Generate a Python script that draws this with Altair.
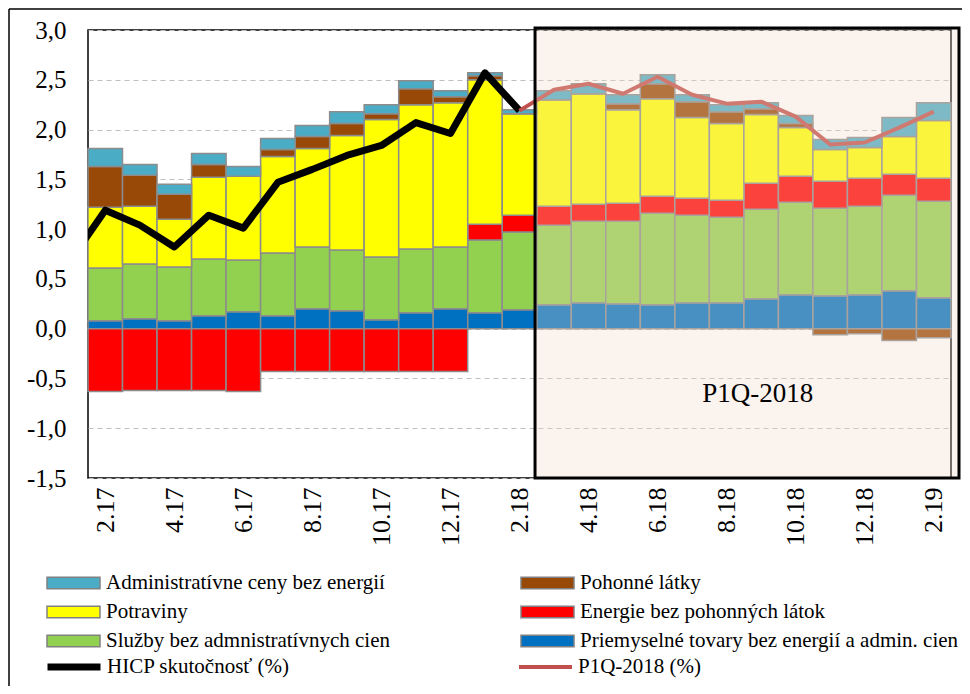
import json
import altair as alt
import pandas as pd

# ---------------- data ----------------
months = ["2.17", "3.17", "4.17", "5.17", "6.17", "7.17", "8.17", "9.17", "10.17",
          "11.17", "12.17", "1.18", "2.18", "3.18", "4.18", "5.18", "6.18", "7.18",
          "8.18", "9.18", "10.18", "11.18", "12.18", "1.19", "2.19"]

admin = [0.18, 0.11, 0.10, 0.11, 0.10, 0.11, 0.11, 0.12, 0.09, 0.08, 0.06, 0.03, 0.04,
         0.09, 0.10, 0.09, 0.09, 0.07, 0.07, 0.06, 0.08, 0.10, 0.10, 0.19, 0.18]
fuels = [0.41, 0.31, 0.25, 0.13, 0.00, 0.07, 0.12, 0.12, 0.06, 0.16, 0.06, 0.04, 0.00,
         0.00, 0.00, 0.06, 0.15, 0.16, 0.12, 0.06, 0.04, -0.06, -0.05, -0.12, -0.09]
food = [0.61, 0.58, 0.48, 0.82, 0.84, 0.97, 0.99, 1.15, 1.38, 1.45, 1.45, 1.45, 1.02,
        1.07, 1.11, 0.94, 0.98, 0.81, 0.77, 0.69, 0.49, 0.32, 0.31, 0.38, 0.58]
energy = [-0.63, -0.62, -0.62, -0.62, -0.63, -0.43, -0.43, -0.43, -0.43, -0.43, -0.43,
          0.16, 0.17, 0.19, 0.17, 0.18, 0.17, 0.17, 0.17, 0.26, 0.26, 0.27, 0.28, 0.21, 0.23]
services = [0.53, 0.55, 0.54, 0.57, 0.52, 0.63, 0.62, 0.61, 0.63, 0.64, 0.62, 0.73, 0.78,
            0.80, 0.82, 0.83, 0.92, 0.88, 0.86, 0.90, 0.93, 0.88, 0.89, 0.96, 0.97]
goods = [0.08, 0.10, 0.08, 0.13, 0.17, 0.13, 0.20, 0.18, 0.09, 0.16, 0.20, 0.16, 0.19,
         0.24, 0.26, 0.25, 0.24, 0.26, 0.26, 0.30, 0.34, 0.33, 0.34, 0.38, 0.31]

# HICP actual (first point is 1.17, just left of the plot, clipped)
hicp_months = ["1.17"] + months[:13]
hicp_values = [0.69, 1.19, 1.04, 0.82, 1.14, 1.01, 1.47, 1.60, 1.74, 1.84, 2.07, 1.96, 2.57, 2.19]

# P1Q-2018 forecast
p1q_months = months[12:]
p1q_values = [2.19, 2.40, 2.46, 2.36, 2.53, 2.35, 2.26, 2.28, 2.13, 1.85, 1.87, 2.02, 2.18]

n_admin = "Administratívne ceny bez energií"
n_fuels = "Pohonné látky"
n_food = "Potraviny"
n_energy = "Energie bez pohonných látok"
n_serv = "Služby bez admnistratívnych cien"
n_goods = "Priemyselné tovary bez energií a admin. cien"

# legend domain (column-major so it reads row by row like the original)
legend_domain = [n_admin, n_food, n_serv, n_fuels, n_energy, n_goods]
legend_colors = ["#4BACC6", "#FFFF00", "#92D050", "#984807", "#FF0000", "#0070C0"]

# stacking order from the bottom
stack_series = [n_goods, n_serv, n_energy, n_food, n_fuels, n_admin]
stack_values = [goods, services, energy, food, fuels, admin]

hicp_name = "HICP skutočnosť (%)"
p1q_name = "P1Q-2018 (%)"
forecast_label = "P1Q-2018"
forecast_start = 12.45   # between 2.18 and 3.18

# ---------------- tables ----------------
rows = []
for o, (name, vals) in enumerate(zip(stack_series, stack_values)):
    for i, m in enumerate(months):
        rows.append({"idx": i, "month": m, "series": name, "value": vals[i], "ord": o})
bars_df = pd.DataFrame(rows)

hicp_df = pd.DataFrame({"idx": list(range(-1, 13)), "month": hicp_months,
                        "value": hicp_values, "name": hicp_name})
p1q_df = pd.DataFrame({"idx": list(range(12, 25)), "month": p1q_months,
                       "value": p1q_values, "name": p1q_name})
box_df = pd.DataFrame({"x0": [forecast_start], "y0": [-1.5], "y1": [3.02]})
text_df = pd.DataFrame({"x": [18.9], "y": [-0.74], "t": [forecast_label]})

FONT = "Liberation Serif"
x_scale = alt.Scale(domain=[-0.5, 24.5], nice=False, zero=False)
y_scale = alt.Scale(domain=[-1.5, 3.0], nice=False, zero=False)
label_expr = json.dumps(months) + "[datum.value]"

x_axis = alt.Axis(values=list(range(0, 25, 2)), labelExpr=label_expr,
                  labelAngle=-90, labelFont=FONT, labelFontSize=26,
                  labelColor="black", labelPadding=9, domain=False,
                  ticks=False, grid=False, title=None)
y_axis = alt.Axis(values=[-1.5, -1.0, -0.5, 0.0, 0.5, 1.0, 1.5, 2.0, 2.5, 3.0],
                  labelExpr="(datum.value < 0 ? '-' : '') + "
                            "replace(format(abs(datum.value), '.1f'), '.', ',')",
                  labelFont=FONT, labelFontSize=25, labelColor="black",
                  labelPadding=22, domain=False, ticks=False, grid=True,
                  gridColor="#BFBFBF", gridDash=[5, 4], gridWidth=1, title=None)

bars = alt.Chart(bars_df).transform_stack(
    stack="value", as_=["v0", "v1"], groupby=["idx"],
    sort=[alt.SortField("ord", order="ascending")], offset="zero"
).transform_calculate(
    xa="datum.idx - 0.5", xb="datum.idx + 0.5"
).mark_rect(stroke="#8C8C8C", strokeWidth=1.5).encode(
    x=alt.X("xa:Q", scale=x_scale, axis=x_axis, title=None),
    x2="xb:Q",
    y=alt.Y("v0:Q", scale=y_scale, axis=y_axis, title=None),
    y2="v1:Q",
    fill=alt.Fill("series:N", scale=alt.Scale(domain=legend_domain, range=legend_colors),
                  legend=alt.Legend(title=None, orient="none", legendX=-42, legendY=542.5,
                                    columns=2, columnPadding=129, rowPadding=7,
                                    symbolType="M-1,-0.22H1V0.22H-1Z", symbolSize=2809,
                                    symbolStrokeColor="#808080", symbolStrokeWidth=1.5,
                                    clipHeight=21, labelFont=FONT, labelFontSize=21,
                                    labelColor="black", labelLimit=600, labelOffset=5,
                                    padding=0)),
)

hicp = alt.Chart(hicp_df).mark_line(clip=True, strokeWidth=7, strokeJoin="round").encode(
    x=alt.X("idx:Q", scale=x_scale, axis=x_axis, title=None),
    y=alt.Y("value:Q", scale=y_scale, axis=y_axis, title=None),
    stroke=alt.Stroke("name:N", scale=alt.Scale(domain=[hicp_name], range=["#000000"]),
                      legend=alt.Legend(title=None, orient="none", legendX=-44, legendY=626.5,
                                        symbolType="stroke", symbolSize=2809,
                                        symbolStrokeWidth=7, clipHeight=21,
                                        labelFont=FONT, labelFontSize=21, labelColor="black",
                                        labelLimit=600, labelOffset=3, padding=0)),
)

p1q = alt.Chart(p1q_df).mark_line(strokeWidth=4, strokeJoin="round").encode(
    x=alt.X("idx:Q", scale=x_scale, axis=x_axis, title=None),
    y=alt.Y("value:Q", scale=y_scale, axis=y_axis, title=None),
    color=alt.Color("name:N", scale=alt.Scale(domain=[p1q_name], range=["#C0504D"]),
                    legend=alt.Legend(title=None, orient="none", legendX=429, legendY=626.5,
                                      symbolType="stroke", symbolSize=2809,
                                      symbolStrokeWidth=4, clipHeight=21,
                                      labelFont=FONT, labelFontSize=21, labelColor="black",
                                      labelLimit=600, labelOffset=4, padding=0)),
)

# forecast panel: runs from between 2.18/3.18 to just past the right edge of the plot
box = alt.Chart(box_df).mark_rect(fill="#F2DCC8", fillOpacity=0.3, stroke="black",
                                  strokeOpacity=1, strokeWidth=3, clip=False).encode(
    x=alt.X("x0:Q", scale=x_scale, axis=x_axis, title=None),
    x2=alt.value({"expr": "width + 8"}),
    y=alt.Y("y0:Q", scale=y_scale, axis=y_axis, title=None), y2="y1:Q",
)

label = alt.Chart(text_df).mark_text(font=FONT, fontSize=27, color="black",
                                     align="center", baseline="alphabetic").encode(
    x=alt.X("x:Q", scale=x_scale, axis=x_axis, title=None),
    y=alt.Y("y:Q", scale=y_scale, axis=y_axis, title=None),
    text="t:N",
)

frame_df = pd.DataFrame({"k": [0]})
frame_left = alt.Chart(frame_df).mark_rule(color="black", strokeWidth=1.5).encode(
    x=alt.value(-79), y=alt.value(-21), y2=alt.value(720))
frame_top = alt.Chart(frame_df).mark_rule(color="black", strokeWidth=1.5).encode(
    x=alt.value(-79), x2=alt.value(960), y=alt.value(-21))

chart = alt.layer(bars, hicp, p1q, box, label, frame_left, frame_top).properties(
    width=863, height=448,
    autosize=alt.AutoSizeParams(type="none"),
    padding={"left": 80, "top": 22, "right": 11, "bottom": 208},
    background="white",
).configure_view(stroke="black", strokeWidth=1.5
).configure_legend(labelFont=FONT
).configure_axis(labelFont=FONT)

chart.save("out.html", embed_options={"renderer": "svg", "actions": False})
